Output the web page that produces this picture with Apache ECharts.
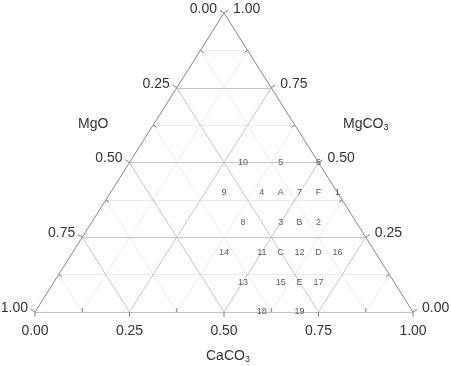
<!DOCTYPE html>
<html>
<head>
<meta charset="utf-8">
<script src="https://cdn.jsdelivr.net/npm/echarts@6/dist/echarts.min.js"></script>
<style>
  html, body { margin: 0; padding: 0; background: #fff; }
  #chart { width: 451px; height: 366px; }
</style>
</head>
<body>
<div id="chart"></div>
<script>
// sample points: CaCO3 and MgCO3 fractions (MgO = 1 - both)
var pointNames = ['1', '2', '3', '4', '5', '6', '7', '8', '9', '10',
  '11', '12', '13', '14', '15', '16', '17', '18', '19',
  'A', 'B', 'C', 'D', 'E', 'F'];
var caco3 = [0.60, 0.60, 0.50, 0.40, 0.40, 0.50, 0.50, 0.40, 0.30, 0.30,
  0.50, 0.60, 0.50, 0.40, 0.60, 0.70, 0.70, 0.60, 0.70,
  0.45, 0.55, 0.55, 0.65, 0.65, 0.55];
var mgco3 = [0.40, 0.30, 0.30, 0.40, 0.50, 0.50, 0.40, 0.30, 0.40, 0.50,
  0.20, 0.20, 0.10, 0.20, 0.10, 0.20, 0.10, 0.00, 0.00,
  0.40, 0.30, 0.20, 0.20, 0.10, 0.40];

var majorTicks = [0, 0.25, 0.5, 0.75, 1];
var minorTicks = [0.125, 0.375, 0.625, 0.875];
var tickLabels = ['0.00', '0.25', '0.50', '0.75', '1.00'];

// ternary (CaCO3, MgCO3) -> plane x/y, triangle 0..1 wide, 0..1 high
function toXY(c, m) {
  return [c + m / 2, m];
}

function gridLines(vals) {
  var out = [];
  vals.forEach(function (v) {
    out.push({coords: [toXY(0, v), toXY(1 - v, v)]});       // const MgCO3
    out.push({coords: [toXY(v, 0), toXY(v, 1 - v)]});       // const CaCO3
    out.push({coords: [toXY(1 - v, 0), toXY(0, 1 - v)]});   // const MgO
  });
  return out;
}

var frame = [
  {coords: [toXY(0, 0), toXY(1, 0)]},
  {coords: [toXY(1, 0), toXY(0, 1)]},
  {coords: [toXY(0, 1), toXY(0, 0)]}
];

// tick items: [v, v, axis(0 bottom,1 left,2 right), major?]
var tickData = [];
[0, 1, 2].forEach(function (a) {
  majorTicks.forEach(function (v) { tickData.push([v, v, a, 1]); });
  minorTicks.forEach(function (v) { tickData.push([v, v, a, 0]); });
});

var chart = echarts.init(document.getElementById('chart'));
var font = 'Liberation Sans, Arial, sans-serif';

function renderTick(params, api) {
  var v = api.value(0), axis = api.value(2), major = api.value(3);
  var bl = api.coord(toXY(0, 0)), br = api.coord(toXY(1, 0)), top = api.coord(toXY(0, 1));
  var p, n;
  if (axis === 0) {
    p = api.coord(toXY(v, 0));
    n = [0, 1];
  } else if (axis === 1) {
    p = api.coord(toXY(0, 1 - v));
    var d = [top[0] - bl[0], top[1] - bl[1]];
    var l = Math.sqrt(d[0] * d[0] + d[1] * d[1]);
    n = [d[1] / l, -d[0] / l];
  } else {
    p = api.coord(toXY(1 - v, v));
    var d2 = [top[0] - br[0], top[1] - br[1]];
    var l2 = Math.sqrt(d2[0] * d2[0] + d2[1] * d2[1]);
    n = [-d2[1] / l2, d2[0] / l2];
  }
  var len = major ? 5 : -4;
  var children = [{
    type: 'line',
    shape: {x1: p[0], y1: p[1], x2: p[0] + n[0] * len, y2: p[1] + n[1] * len},
    style: {stroke: '#808080', lineWidth: 1}
  }];
  if (major) {
    var txt = tickLabels[majorTicks.indexOf(v)];
    var st = {text: txt, fontSize: 14, fontFamily: font, fill: '#333', verticalAlign: 'middle'};
    if (axis === 0) { st.x = p[0]; st.y = p[1] + 19; st.align = 'center'; }
    else if (axis === 1) { st.x = p[0] - 7; st.y = p[1] - 4; st.align = 'right'; }
    else { st.x = p[0] + 9; st.y = p[1] - 4; st.align = 'left'; }
    children.push({type: 'text', style: st});
  }
  return {type: 'group', children: children};
}

var option = {
  animation: false,
  grid: {left: 35, right: 38, top: 13, bottom: 54},
  xAxis: {type: 'value', min: 0, max: 1, show: false},
  yAxis: {type: 'value', min: 0, max: 1, show: false},
  series: [
    {
      type: 'lines', coordinateSystem: 'cartesian2d', silent: true, z: 1,
      lineStyle: {color: '#ebebeb', width: 1, opacity: 1},
      data: gridLines(minorTicks)
    },
    {
      type: 'lines', coordinateSystem: 'cartesian2d', silent: true, z: 2,
      lineStyle: {color: '#c6c6c6', width: 1, opacity: 1},
      data: gridLines([0.25, 0.5, 0.75])
    },
    {
      type: 'lines', coordinateSystem: 'cartesian2d', silent: true, z: 3,
      lineStyle: {color: '#888888', width: 1, opacity: 1},
      data: frame
    },
    {
      type: 'custom', coordinateSystem: 'cartesian2d', clip: false, silent: true, z: 4,
      renderItem: renderTick,
      data: tickData
    },
    {
      type: 'scatter', z: 5, symbolSize: 1,
      itemStyle: {color: 'transparent'},
      label: {show: true, position: 'inside', formatter: '{b}', fontSize: 9, fontFamily: font, color: '#333'},
      data: pointNames.map(function (n, i) {
        return {name: n, value: toXY(caco3[i], mgco3[i])};
      })
    }
  ],
  graphic: [
    {type: 'text', left: 78, top: 117, style: {text: 'MgO', fontSize: 14, fontFamily: font, fill: '#333'}},
    {type: 'text', left: 343, top: 117, style: {
      text: '{a|MgCO}{s|3}', fontFamily: font, fill: '#333',
      rich: {a: {fontSize: 14, fontFamily: font, color: '#333'}, s: {fontSize: 9, fontFamily: font, color: '#333', padding: [8, 0, 0, 0]}}
    }},
    {type: 'text', left: 206, top: 349, style: {
      text: '{a|CaCO}{s|3}', fontFamily: font, fill: '#333',
      rich: {a: {fontSize: 14, fontFamily: font, color: '#333'}, s: {fontSize: 9, fontFamily: font, color: '#333', padding: [8, 0, 0, 0]}}
    }}
  ]
};
chart.setOption(option);
</script>
</body>
</html>
